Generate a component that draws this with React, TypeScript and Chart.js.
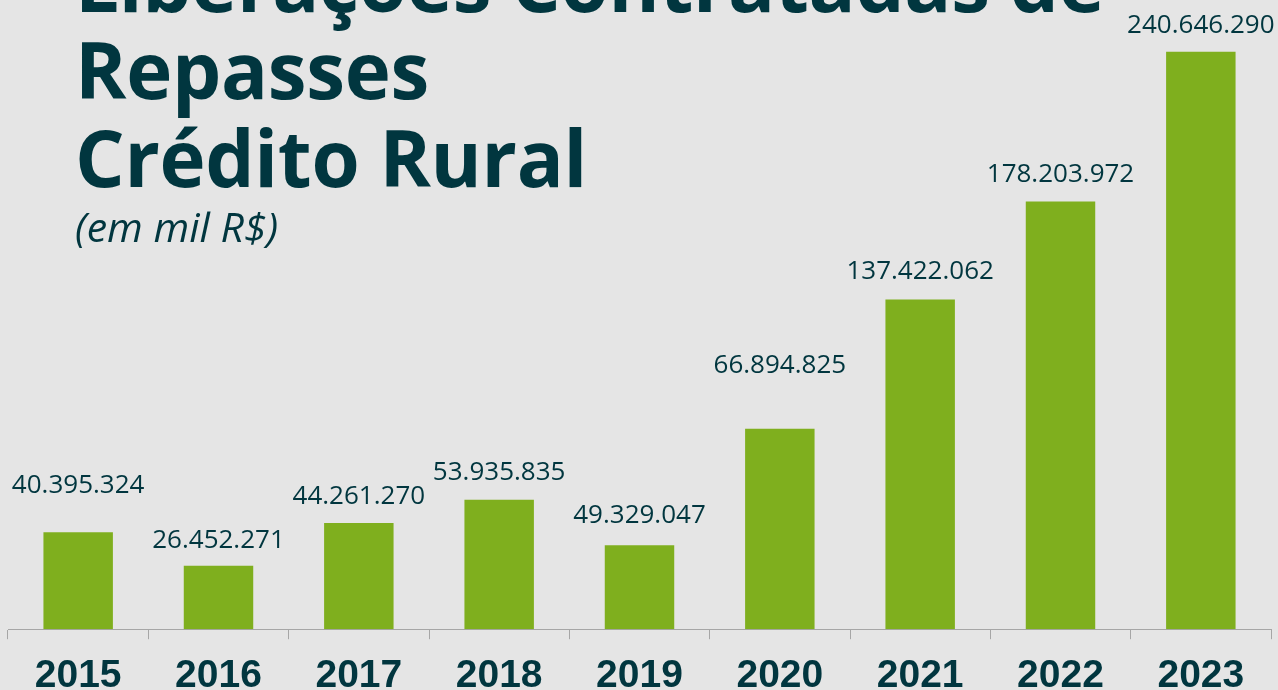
import React, { useEffect, useRef } from "react";
import { Chart, registerables } from "chart.js";

Chart.register(...registerables);

const years = ["2015", "2016", "2017", "2018", "2019", "2020", "2021", "2022", "2023"];
// bar heights as drawn in the reference (mil R$)
const barValues = [40395324, 26452271, 44261270, 53935835, 35000000, 83500000, 137422062, 178203972, 240646290];
const valueLabels = [
  "40.395.324",
  "26.452.271",
  "44.261.270",
  "53.935.835",
  "49.329.047",
  "66.894.825",
  "137.422.062",
  "178.203.972",
  "240.646.290",
];
const titleLines = ["Liberações Contratadas de", "Repasses", "Crédito Rural"];
const subtitle = "(em mil R$)";

const W = 1278;
const H = 690;
const CANVAS_H = 714;
const DARK = "#01363F";
const GREEN = "#7FAF1E";
const BG = "#E5E5E5";
const AXIS = "#A6A6A6";
const labelLift = [39, 18, 19, 20, 22, 56, 20, 20, 19];

const valueLabelPlugin = {
  id: "valueLabels",
  afterDatasetsDraw(chart: any) {
    const ctx = chart.ctx;
    const meta = chart.getDatasetMeta(0);
    ctx.save();
    ctx.font = '26px "Open Sans"';
    ctx.fillStyle = DARK;
    ctx.textAlign = "center";
    ctx.textBaseline = "alphabetic";
    meta.data.forEach((bar: any, i: number) => {
      ctx.fillText(valueLabels[i], bar.x, bar.y - labelLift[i]);
    });
    ctx.restore();
  },
};

export default function App() {
  const ref = useRef<HTMLCanvasElement | null>(null);

  useEffect(() => {
    document.body.style.margin = "0";
    document.body.style.background = BG;
    const canvas = ref.current;
    if (!canvas) return;
    const chart = new Chart(canvas, {
      type: "bar",
      data: {
        labels: years,
        datasets: [
          {
            data: barValues,
            backgroundColor: GREEN,
            borderWidth: 0,
            barPercentage: 1,
            categoryPercentage: 0.495,
          },
        ],
      },
      options: {
        responsive: false,
        animation: false,
        devicePixelRatio: 1,
        layout: { padding: { left: 8, right: 7, top: 0, bottom: 0 } },
        plugins: {
          legend: { display: false },
          tooltip: { enabled: false },
          title: { display: false },
        },
        scales: {
          x: {
            grid: {
              display: true,
              drawOnChartArea: false,
              drawTicks: true,
              tickLength: 10,
              color: AXIS,
              offset: true,
            },
            border: { display: true, color: AXIS, width: 1 },
            ticks: {
              color: DARK,
              padding: 14,
              font: { family: '"Liberation Sans", Arial, sans-serif', size: 39, weight: "bold" },
            },
          },
          y: {
            display: false,
            min: 0,
            max: 262180000,
          },
        },
      },
      plugins: [valueLabelPlugin],
    });
    return () => chart.destroy();
  }, []);

  const titleStyle: React.CSSProperties = {
    position: "absolute",
    left: 75,
    margin: 0,
    fontFamily: '"Open Sans", sans-serif',
    fontWeight: 700,
    fontSize: 78,
    lineHeight: "78px",
    color: DARK,
    whiteSpace: "nowrap",
    letterSpacing: "-0.3px",
  };

  return (
    <div
      style={{
        position: "fixed",
        left: 0,
        top: 0,
        width: W,
        height: H,
        background: BG,
        overflow: "hidden",
      }}
    >
      <canvas ref={ref} width={W} height={CANVAS_H} style={{ position: "absolute", left: 0, top: 0 }} />
      <div style={{ ...titleStyle, top: 16 - 73 }}>{titleLines[0]}</div>
      <div style={{ ...titleStyle, top: 103 - 73 }}>{titleLines[1]}</div>
      <div style={{ ...titleStyle, top: 191 - 73 }}>{titleLines[2]}</div>
      <div
        style={{
          position: "absolute",
          left: 75,
          top: 243 - 37,
          fontFamily: '"Open Sans", sans-serif',
          fontStyle: "italic",
          fontSize: 41,
          lineHeight: "41px",
          color: DARK,
          whiteSpace: "nowrap",
        }}
      >
        {subtitle}
      </div>
    </div>
  );
}
